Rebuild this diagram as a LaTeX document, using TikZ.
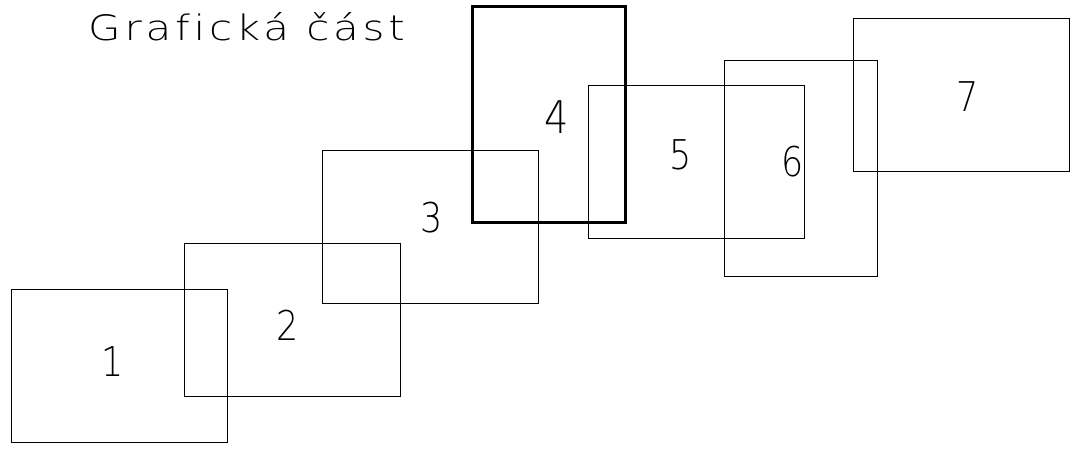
\documentclass[tikz,border=0pt]{standalone}
\usepackage{fontspec}
\newfontfamily\cadfont{DejaVu Sans ExtraLight}
\newfontfamily\cadwide[LetterSpace=9, Ligatures=NoCommon]{DejaVu Sans ExtraLight}
\usepackage{tikz}

\begin{document}
\begin{tikzpicture}[x=1pt, y=-1pt]

\tikzstyle{sheet}=[draw, line width=0.9pt, inner sep=0pt, minimum width=216pt, minimum height=153pt]
\tikzstyle{tall}=[sheet, minimum width=153pt, minimum height=216pt]
\tikzstyle{num}=[font=\cadfont\fontsize{41}{41}\selectfont, inner sep=0pt, xscale=0.85]

\useasboundingbox (0, 0) rectangle (1084, 449);

\node (title) [anchor=base west, inner sep=0pt, xscale=1.2, font=\cadwide\fontsize{35}{35}\selectfont] at (88, 41) {Grafická část};

\node (r1) [sheet] at (119, 365.5) {};
\node (r2) [sheet] at (292, 319.5) {};
\node (r3) [sheet] at (430, 227) {};
\node (r4) [tall, line width=2.4pt] at (549, 114.7) {};
\node (r5) [sheet] at (696, 161.5) {};
\node (r6) [tall] at (801, 168) {};
\node (r7) [sheet] at (961, 94.5) {};

\node (l1) [num] at (113, 362) {1};
\node (l2) [num] at (288, 325) {2};
\node (l3) [num] at (432, 218) {3};
\node (l4) [num, font=\cadfont\fontsize{45}{45}\selectfont] at (557, 117) {4};
\node (l5) [num] at (681, 155) {5};
\node (l6) [num] at (793, 162) {6};
\node (l7) [num] at (968, 97) {7};

\end{tikzpicture}
\end{document}
